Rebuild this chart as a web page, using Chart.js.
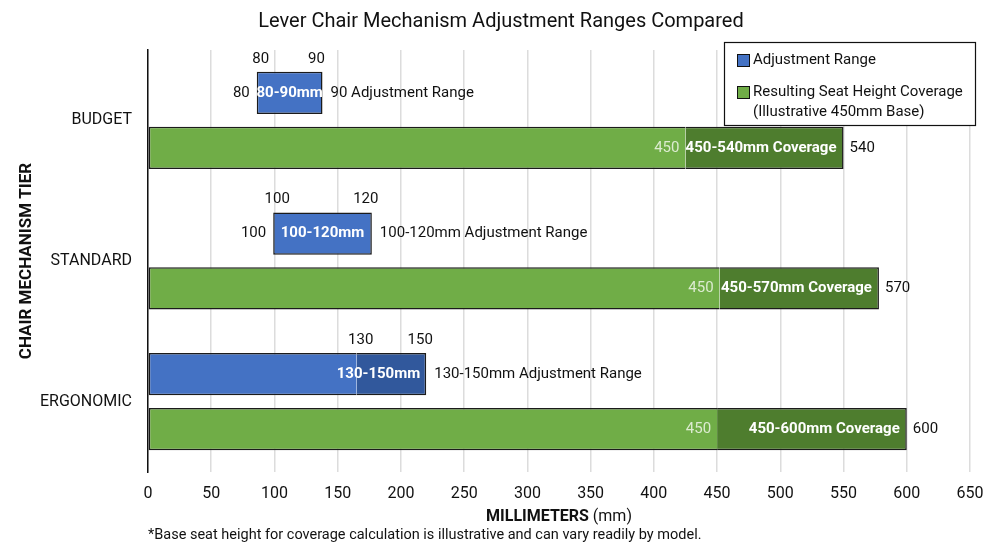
<!DOCTYPE html>
<html>
<head>
<meta charset="utf-8">
<script src="https://cdn.jsdelivr.net/npm/chart.js@4.4.1/dist/chart.umd.min.js"></script>
<style>
    html, body { margin: 0; padding: 0; background: #fff; }
    #wrap { width: 1000px; height: 545px; position: relative; }
</style>
</head>
<body>
<div id="wrap"><canvas id="tierChart"></canvas></div>
<script>
// === DATA ===
const tiers = ['BUDGET', 'STANDARD', 'ERGONOMIC'];

// bars as they are drawn (mm)
const adjStart = [86, 99, 0];
const adjSplit = [138, 177, 165];
const adjEnd = [138, 177, 220];
const covStart = [0, 0, 0];
const covSplit = [425, 452, 450];
const covEnd = [550, 578, 600];

// labelled values
const adjMin = [80, 100, 130];
const adjMax = [90, 120, 150];
const baseHeight = [450, 450, 450];
const covMax = [540, 570, 600];
const adjText = ['90 Adjustment Range', '100-120mm Adjustment Range', '130-150mm Adjustment Range'];

const seriesNames = ['Adjustment Range', 'Resulting Seat Height Coverage', '(Illustrative 450mm Base)'];

const FONT = 'Roboto, "Liberation Sans", sans-serif';
const BLUE = '#4472C4', BLUE_DK = '#31589C';
const GREEN = '#70AD47', GREEN_DK = '#4E7D2E';
const EDGE = '#1b1b1b';

const hasDark = (s, e) => e > s;

// === LABEL PLUGIN ===
const labelPlugin = {
    id: 'labels',
    afterDatasetsDraw(chart) {
        const ctx = chart.ctx;
        const x = chart.scales.x;
        const area = chart.chartArea;
        const adjMeta = chart.getDatasetMeta(0);
        const covMeta = chart.getDatasetMeta(2);
        ctx.save();
        ctx.textBaseline = 'middle';

        tiers.forEach((t, i) => {
            // adjustment bar
            const a = adjMeta.data[i];
            const aTop = a.y - a.height / 2;
            const x0 = x.getPixelForValue(adjStart[i]);
            const xs = x.getPixelForValue(adjSplit[i]);
            const x1 = x.getPixelForValue(adjEnd[i]);
            const minAnchor = hasDark(adjSplit[i], adjEnd[i]) ? xs : x0;

            ctx.font = '15px ' + FONT;
            ctx.fillStyle = '#111';
            ctx.textAlign = 'center';
            ctx.fillText(String(adjMin[i]), minAnchor + 4, aTop - 13);
            ctx.fillText(String(adjMax[i]), x1 - 6, aTop - 13);

            if (adjStart[i] > 0) {
                ctx.textAlign = 'right';
                ctx.fillText(String(adjMin[i]), x0 - 7, a.y);
            }
            ctx.textAlign = 'left';
            ctx.fillText(adjText[i], x1 + 8, a.y);

            ctx.font = 'bold 15px ' + FONT;
            ctx.fillStyle = '#fff';
            const inner = adjMin[i] + '-' + adjMax[i] + 'mm';
            if (hasDark(adjSplit[i], adjEnd[i])) {
                ctx.textAlign = 'right';
                ctx.fillText(inner, x1 - 6, a.y);
            } else {
                ctx.textAlign = 'center';
                ctx.fillText(inner, (x0 + x1) / 2, a.y);
            }

            // coverage bar
            const c = covMeta.data[i];
            const cs = x.getPixelForValue(covSplit[i]);
            const ce = x.getPixelForValue(covEnd[i]);
            ctx.font = '15px ' + FONT;
            ctx.fillStyle = '#dcebd0';
            ctx.textAlign = 'right';
            ctx.fillText(String(baseHeight[i]), cs - 6, c.y);

            ctx.font = 'bold 15px ' + FONT;
            ctx.fillStyle = '#fff';
            ctx.fillText(baseHeight[i] + '-' + covMax[i] + 'mm Coverage', ce - 7, c.y);

            ctx.font = '15px ' + FONT;
            ctx.fillStyle = '#111';
            ctx.textAlign = 'left';
            ctx.fillText(String(covMax[i]), ce + 6, c.y);
        });

        // legend box
        const lx = 724, ly = 42, lw = 251, lh = 83;
        ctx.fillStyle = '#fff';
        ctx.fillRect(lx, ly, lw, lh);
        ctx.strokeStyle = '#111';
        ctx.lineWidth = 1.2;
        ctx.strokeRect(lx + 0.5, ly + 0.5, lw, lh);

        ctx.lineWidth = 1;
        ctx.fillStyle = BLUE;
        ctx.fillRect(737, 54, 13, 13);
        ctx.strokeRect(737.5, 54.5, 12, 12);
        ctx.fillStyle = GREEN;
        ctx.fillRect(737, 86, 13, 13);
        ctx.strokeRect(737.5, 86.5, 12, 12);

        ctx.font = '15px ' + FONT;
        ctx.fillStyle = '#111';
        ctx.textAlign = 'left';
        ctx.fillText(seriesNames[0], 753, 60);
        ctx.fillText(seriesNames[1], 753, 92);
        ctx.fillText(seriesNames[2], 753, 112);

        // x axis title (bold + regular)
        const midX = (area.left + area.right) / 2;
        ctx.font = 'bold 16px ' + FONT;
        const w1 = ctx.measureText('MILLIMETERS').width;
        ctx.font = '16px ' + FONT;
        const w2 = ctx.measureText(' (mm)').width;
        let sx = midX - (w1 + w2) / 2;
        ctx.font = 'bold 16px ' + FONT;
        ctx.fillText('MILLIMETERS', sx, 517);
        ctx.font = '16px ' + FONT;
        ctx.fillText(' (mm)', sx + w1, 517);

        // footnote
        ctx.font = '14.5px ' + FONT;
        ctx.fillText('*Base seat height for coverage calculation is illustrative and can vary readily by model.', area.left, 535);

        // y axis title
        ctx.save();
        ctx.translate(27, (area.top + area.bottom) / 2);
        ctx.rotate(-Math.PI / 2);
        ctx.textAlign = 'center';
        ctx.font = 'bold 17px ' + FONT;
        ctx.fillText('CHAIR MECHANISM TIER', 0, 0);
        ctx.restore();

        ctx.restore();
    }
};

// === CHART ===
function createTierChart() {
    const ctx = document.getElementById('tierChart').getContext('2d');
    new Chart(ctx, {
        type: 'bar',
        data: {
            labels: tiers,
            datasets: [
                {
                    label: seriesNames[0],
                    data: tiers.map((t, i) => [adjStart[i], adjSplit[i]]),
                    backgroundColor: BLUE,
                    stack: 'adj',
                    borderSkipped: c => hasDark(adjSplit[c.dataIndex], adjEnd[c.dataIndex]) ? 'right' : false,
                },
                {
                    label: seriesNames[0] + ' (upper)',
                    data: tiers.map((t, i) => hasDark(adjSplit[i], adjEnd[i]) ? [adjSplit[i], adjEnd[i]] : null),
                    backgroundColor: BLUE_DK,
                    stack: 'adj',
                    borderSkipped: 'left',
                },
                {
                    label: seriesNames[1],
                    data: tiers.map((t, i) => [covStart[i], covSplit[i]]),
                    backgroundColor: GREEN,
                    stack: 'cov',
                    borderSkipped: 'right',
                },
                {
                    label: seriesNames[1] + ' (upper)',
                    data: tiers.map((t, i) => [covSplit[i], covEnd[i]]),
                    backgroundColor: GREEN_DK,
                    stack: 'cov',
                    borderSkipped: 'left',
                }
            ]
        },
        options: {
            indexAxis: 'y',
            responsive: true,
            maintainAspectRatio: false,
            animation: false,
            datasets: {
                bar: {
                    borderColor: EDGE,
                    borderWidth: 1.5,
                    categoryPercentage: 0.78,
                    barPercentage: 0.77,
                }
            },
            layout: { padding: { left: 32, right: 30, top: 0, bottom: 0 } },
            plugins: {
                legend: { display: false },
                tooltip: { enabled: false },
                title: {
                    display: true,
                    text: 'Lever Chair Mechanism Adjustment Ranges Compared',
                    color: '#111',
                    font: { size: 20, weight: 'normal', family: FONT },
                    padding: { top: 10, bottom: 16 },
                }
            },
            scales: {
                x: {
                    type: 'linear',
                    stacked: false,
                    min: 0,
                    max: 650,
                    ticks: {
                        stepSize: 50,
                        color: '#111',
                        padding: 12,
                        font: { size: 16, family: FONT },
                    },
                    grid: { color: '#dcdcdc', lineWidth: 1.5, drawTicks: false },
                    border: { display: false },
                    afterFit: s => { s.height = 73; },
                },
                y: {
                    stacked: true,
                    ticks: {
                        color: '#111',
                        padding: 16,
                        font: { size: 16, family: FONT },
                    },
                    grid: { display: false, drawTicks: false },
                    border: { display: true, color: '#111', width: 1.5 },
                    afterFit: s => { s.width = 116; },
                }
            }
        },
        plugins: [labelPlugin]
    });
}

document.addEventListener('DOMContentLoaded', createTierChart);
</script>
</body>
</html>
